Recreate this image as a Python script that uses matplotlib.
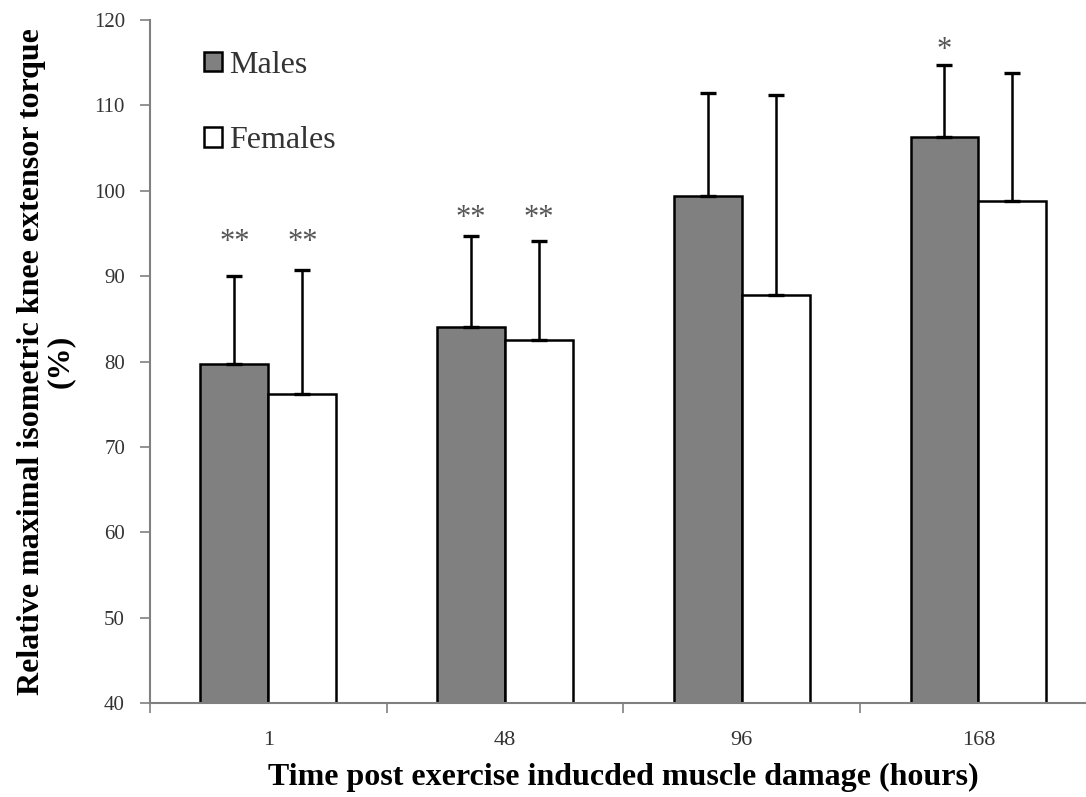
import numpy as np
import matplotlib
matplotlib.use("Agg")
import matplotlib.pyplot as plt
from matplotlib.patches import Patch

plt.rcParams["font.family"] = ["Liberation Serif", "DejaVu Serif"]

hours = ["1", "48", "96", "168"]
males = [79.7, 84.0, 99.4, 106.3]
males_sd = [10.3, 10.7, 12.1, 8.4]
females = [76.2, 82.5, 87.8, 98.8]
females_sd = [14.5, 11.6, 23.4, 15.0]
# significance marks and the height they sit at
male_marks = ["**", "**", "", "*"]
female_marks = ["**", "**", "", ""]
mark_y = [93.9, 96.8, 0, 116.4]

fig = plt.figure(figsize=(10.86, 7.97), dpi=100)
ax = fig.add_axes([150 / 1086, (797 - 703.3) / 797, 936 / 1086, 683.3 / 797])

x = np.arange(len(hours))
w = 0.287
err_kw = dict(lw=1.8, capsize=6, capthick=2.4, ecolor="black")
ax.bar(x - w / 2, males, w, color="#808080", edgecolor="black", lw=1.8,
       yerr=[np.zeros(4), males_sd], error_kw=err_kw, zorder=2)
ax.bar(x + w / 2, females, w, color="white", edgecolor="black", lw=1.8,
       yerr=[np.zeros(4), females_sd], error_kw=err_kw, zorder=2)

for i in range(len(hours)):
    if male_marks[i]:
        ax.text(x[i] - w / 2, mark_y[i], male_marks[i], ha="center", va="center",
                fontsize=22, color="#555555")
    if female_marks[i]:
        ax.text(x[i] + w / 2, mark_y[i], female_marks[i], ha="center", va="center",
                fontsize=22, color="#555555")

ax.set_yticks(range(40, 121, 10))
ax.set_xticks(x)
ax.set_xticklabels(hours)
ax.set_xticks(np.arange(-0.5, 4, 1), minor=True)
ax.set_ylim(40, 120)
ax.set_xlim(-0.5, -0.5 + 936 / 236.7)  # axis runs off the right edge
ax.tick_params(axis="x", which="major", length=0, pad=20, labelsize=16, labelcolor="#333333")
ax.tick_params(axis="x", which="minor", length=7, color="#808080", width=1.2)
ax.tick_params(axis="y", length=7, color="#808080", width=1.2, pad=11, labelsize=15,
               labelcolor="#333333")

for s in ["top", "right"]:
    ax.spines[s].set_visible(False)
for s in ["left", "bottom"]:
    ax.spines[s].set_color("#808080")
    ax.spines[s].set_linewidth(1.5)

ax.set_xlabel("Time post exercise inducded muscle damage (hours)", fontsize=23,
              fontweight="bold")
ax.xaxis.set_label_coords((623 - 150) / 936, -(777 - 703.3) / 683.3)
ax.xaxis.label.set_va("center")
ax.set_ylabel("Relative maximal isometric knee extensor torque\n(%)", fontsize=23,
              fontweight="bold", linespacing=1.0)
ax.yaxis.set_label_coords(-(150 - 46) / 936, 0.5)
ax.yaxis.label.set_va("center")

handles = [Patch(facecolor="#808080", edgecolor="black", lw=1.8),
           Patch(facecolor="white", edgecolor="black", lw=1.8)]
ax.legend(handles, ["Males", "Females"], loc="upper left",
          bbox_to_anchor=((204 - 150) / 936, 1 - (51 - 20) / 683.3), borderpad=0,
          borderaxespad=0, frameon=False, fontsize=23, handlelength=0.55,
          handleheight=0.55, handletextpad=0.25, labelspacing=1.45, labelcolor="#333333")

fig.savefig("out.png", dpi=100)
